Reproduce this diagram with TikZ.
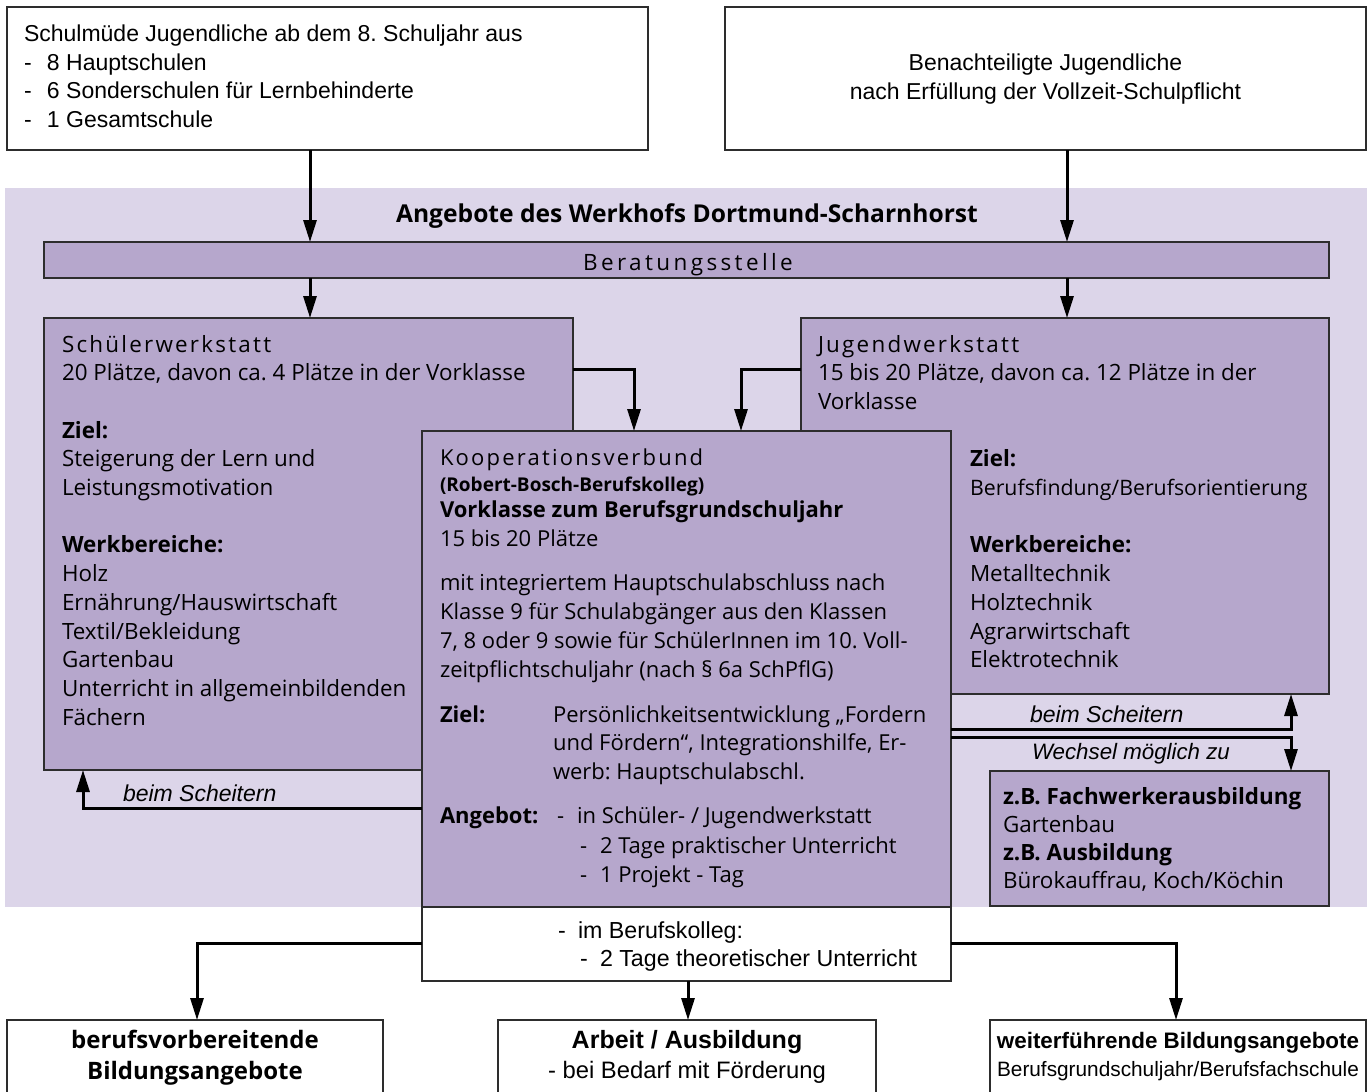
\documentclass[tikz,border=0pt]{standalone}
\usepackage{fontspec}
\setmainfont{Liberation Sans}
\newfontfamily\fru{Open Sans}
\newfontfamily\fruls[LetterSpace=10]{Open Sans}
\newfontfamily\berls[LetterSpace=15]{Open Sans}
\usetikzlibrary{arrows.meta}
\definecolor{bgl}{RGB}{220,213,233}
\definecolor{boxc}{RGB}{182,167,204}
\definecolor{edge}{RGB}{45,45,45}
\newcommand\dsh{\makebox[23pt][l]{-}}
\newcommand\textstack[5]{\foreach \tx [count=\k from 0] in {#5}{\node[txt] (#1\k) at (#2,{#3+\k*#4}) {\tx};}}
\begin{document}
\frenchspacing
\begin{tikzpicture}[x=1pt,y=-1pt,
  frame/.style={draw=edge, line width=1.3pt, inner sep=0pt, outer sep=0pt},
  wbox/.style={frame, fill=white},
  pbox/.style={frame, fill=boxc},
  txt/.style={anchor=base west, inner sep=0pt, outer sep=0pt},
  ctxt/.style={anchor=base, inner sep=0pt, outer sep=0pt},
  arr/.style={line width=3pt, -{Triangle[length=22pt,width=13pt]}},
  inner/.style={font=\fru\fontsize{22.4}{26}\selectfont},
  kinner/.style={font=\fru\fontsize{22}{26}\selectfont},
  lab/.style={font=\itshape\fontsize{23}{25}\selectfont}
]
\useasboundingbox (0,0) rectangle (1371,1092);
\clip (0,0) rectangle (1371,1092);
\fill[white] (0,0) rectangle (1371,1092);

% background area
\node[fill=bgl, inner sep=0pt, outer sep=0pt, minimum width=1362pt, minimum height=719pt] (bg) at (686,547.5) {};

% boxes
\node[wbox, minimum width=641pt, minimum height=143pt] (tl) at (327.5,78.5) {};
\node[wbox, minimum width=641pt, minimum height=143pt] (tr) at (1045.5,78.5) {};
\node[pbox, minimum width=1285pt, minimum height=36pt] (ber) at (686.5,260) {};
\node[pbox, minimum width=529pt, minimum height=452pt] (sw) at (308.5,544) {};
\node[pbox, minimum width=528pt, minimum height=376pt] (jw) at (1065,506) {};
\node[pbox, minimum width=529pt, minimum height=476pt] (kv) at (686.5,669) {};
\node[wbox, minimum width=529pt, minimum height=74pt] (kw) at (686.5,944) {};
\node[pbox, minimum width=339pt, minimum height=135pt] (zb) at (1159.5,838.5) {};
\node[wbox, minimum width=376pt, minimum height=90pt] (b1) at (195,1065) {};
\node[wbox, minimum width=378pt, minimum height=90pt] (b2) at (687,1065) {};
\node[wbox, minimum width=376pt, minimum height=90pt] (b3) at (1178,1065) {};

% helper coordinates
\coordinate (xA) at (310,0);
\coordinate (xB) at (1067,0);
\coordinate (xC) at (634,0);
\coordinate (xD) at (741,0);
\coordinate (xE) at (83,0);
\coordinate (xF) at (1291,0);
\coordinate (xG) at (197,0);
\coordinate (xH) at (688,0);
\coordinate (xI) at (1176,0);
\coordinate (yA) at (0,369);
\coordinate (yB) at (0,808);
\coordinate (yC) at (0,729);
\coordinate (yD) at (0,737);
\coordinate (yE) at (0,943);

% connectors
\draw[arr] (tl.south -| xA) -- (ber.north -| xA);
\draw[arr] (tr.south -| xB) -- (ber.north -| xB);
\draw[arr] (ber.south -| xA) -- (sw.north -| xA);
\draw[arr] (ber.south -| xB) -- (jw.north -| xB);
\draw[arr] (sw.east |- yA) -| (kv.north -| xC);
\draw[arr] (jw.west |- yA) -| (kv.north -| xD);
\draw[arr] (kv.west |- yB) -| (sw.south -| xE);
\draw[arr] (kv.east |- yC) -| (jw.south -| xF);
\draw[arr] (kv.east |- yD) -| (zb.north -| xF);
\draw[arr] (kw.west |- yE) -| (b1.north -| xG);
\draw[arr] (kw.south -| xH) -- (b2.north -| xH);
\draw[arr] (kw.east |- yE) -| (b3.north -| xI);

% top texts
\begin{scope}[font=\fontsize{23}{28}\selectfont]
\node[txt] (t1) at (24,41.5) {Schulmüde Jugendliche ab dem 8. Schuljahr aus};
\node[txt] (t2) at (24,70) {\dsh 8 Hauptschulen};
\node[txt] (t3) at (24,98.5) {\dsh 6 Sonderschulen für Lernbehinderte};
\node[txt] (t4) at (24,127) {\dsh 1 Gesamtschule};
\node[ctxt] (r1) at (1045.5,70) {Benachteiligte Jugendliche};
\node[ctxt] (r2) at (1045.5,99) {nach Erfüllung der Vollzeit-Schulpflicht};
\end{scope}

% title and Beratungsstelle
\node[ctxt, font=\fru\bfseries\fontsize{24.6}{28}\selectfont] (title) at (687,222) {Angebote des Werkhofs Dortmund-Scharnhorst};
\node[ctxt, font=\berls\fontsize{22.5}{26}\selectfont] (bert) at (688,270) {Beratungsstelle};

\begin{scope}[inner]
% Schuelerwerkstatt
\textstack{sw}{62}{352}{28.7}{{\fruls Schülerwerkstatt},{20 Plätze, davon ca. 4 Plätze in der Vorklasse},{},{\bfseries Ziel:},{Steigerung der Lern und},{Leistungsmotivation},{},{\bfseries Werkbereiche:},{Holz},{Ernährung/Hauswirtschaft},{Textil/Bekleidung},{Gartenbau},{Unterricht in allgemeinbildenden},{Fächern}}
% Jugendwerkstatt
\textstack{jw}{818}{352}{28.7}{{\fruls Jugendwerkstatt},{15 bis 20 Plätze, davon ca. 12 Plätze in der},{Vorklasse}}
\textstack{jz}{970}{466.8}{28.7}{{\bfseries Ziel:},{\fontsize{21.3}{26}\selectfont Berufsfindung/Berufsorientierung},{},{\bfseries Werkbereiche:},{Metalltechnik},{Holztechnik},{Agrarwirtschaft},{Elektrotechnik}}
% zB box
\node[txt] (z1) at (1003,804) {\bfseries z.B. Fachwerkerausbildung};
\node[txt] (z2) at (1003,832) {Gartenbau};
\node[txt] (z3) at (1003,860) {\bfseries z.B. Ausbildung};
\node[txt] (z4) at (1003,888) {Bürokauffrau, Koch/Köchin};
\end{scope}

\begin{scope}[kinner]
% Kooperationsverbund
\node[txt] (k1) at (440,465) {\fruls Kooperationsverbund};
\node[txt, font=\fru\bfseries\fontsize{19}{22}\selectfont] (k2) at (440,491) {(Robert-Bosch-Berufskolleg)};
\node[txt] (k3) at (440,517) {\bfseries Vorklasse zum Berufsgrundschuljahr};
\node[txt] (k4) at (440,546) {15 bis 20 Plätze};
\textstack{km}{440}{590}{29}{{mit integriertem Hauptschulabschluss nach},{Klasse 9 für Schulabgänger aus den Klassen},{7, 8 oder 9 sowie für SchülerInnen im 10. Voll-},{zeitpflichtschuljahr (nach § 6a SchPflG)}}
\node[txt] (kz) at (440,722) {\bfseries Ziel:};
\textstack{kzt}{553}{722}{28.7}{{Persönlichkeitsentwicklung „Fordern},{und Fördern“, Integrationshilfe, Er-},{werb: Hauptschulabschl.}}
\node[txt] (ka) at (440,823) {\bfseries Angebot:};
\node[txt] (kd1) at (557,823) {-};
\node[txt] (ka1) at (577,823) {in Schüler- / Jugendwerkstatt};
\node[txt] (kd2) at (580,853) {-};
\node[txt] (ka2) at (600,853) {2 Tage praktischer Unterricht};
\node[txt] (kd3) at (580,882) {-};
\node[txt] (ka3) at (600,882) {1 Projekt - Tag};
\end{scope}

% connector labels
\begin{scope}[lab]
\node[txt] (l1) at (123,801) {beim Scheitern};
\node[txt] (l2) at (1030,722) {beim Scheitern};
\node[txt, font=\itshape\fontsize{22.3}{25}\selectfont] (l3) at (1032,759) {Wechsel möglich zu};
\end{scope}

% white box under Kooperationsverbund
\begin{scope}[font=\fontsize{23.2}{28}\selectfont]
\node[txt] (w1d) at (558,938) {-};
\node[txt] (w1) at (578,938) {im Berufskolleg:};
\node[txt] (w2d) at (580,966) {-};
\node[txt] (w2) at (600,966) {2 Tage theoretischer Unterricht};
\end{scope}

% bottom boxes
\node[ctxt, font=\fru\bfseries\fontsize{24}{26}\selectfont] (b1a) at (195,1048) {berufsvorbereitende};
\node[ctxt, font=\fru\bfseries\fontsize{24}{26}\selectfont] (b1b) at (195,1079) {Bildungsangebote};
\node[ctxt, font=\bfseries\fontsize{25}{26}\selectfont] (b2a) at (687,1048) {Arbeit / Ausbildung};
\node[ctxt, font=\fontsize{23.8}{26}\selectfont] (b2b) at (687,1078) {- bei Bedarf mit Förderung};
\node[ctxt, font=\bfseries\fontsize{22.4}{26}\selectfont] (b3a) at (1178,1048) {weiterführende Bildungsangebote};
\node[ctxt, font=\fontsize{20.8}{26}\selectfont] (b3b) at (1178,1076) {Berufsgrundschuljahr/Berufsfachschule};
\end{tikzpicture}
\end{document}
